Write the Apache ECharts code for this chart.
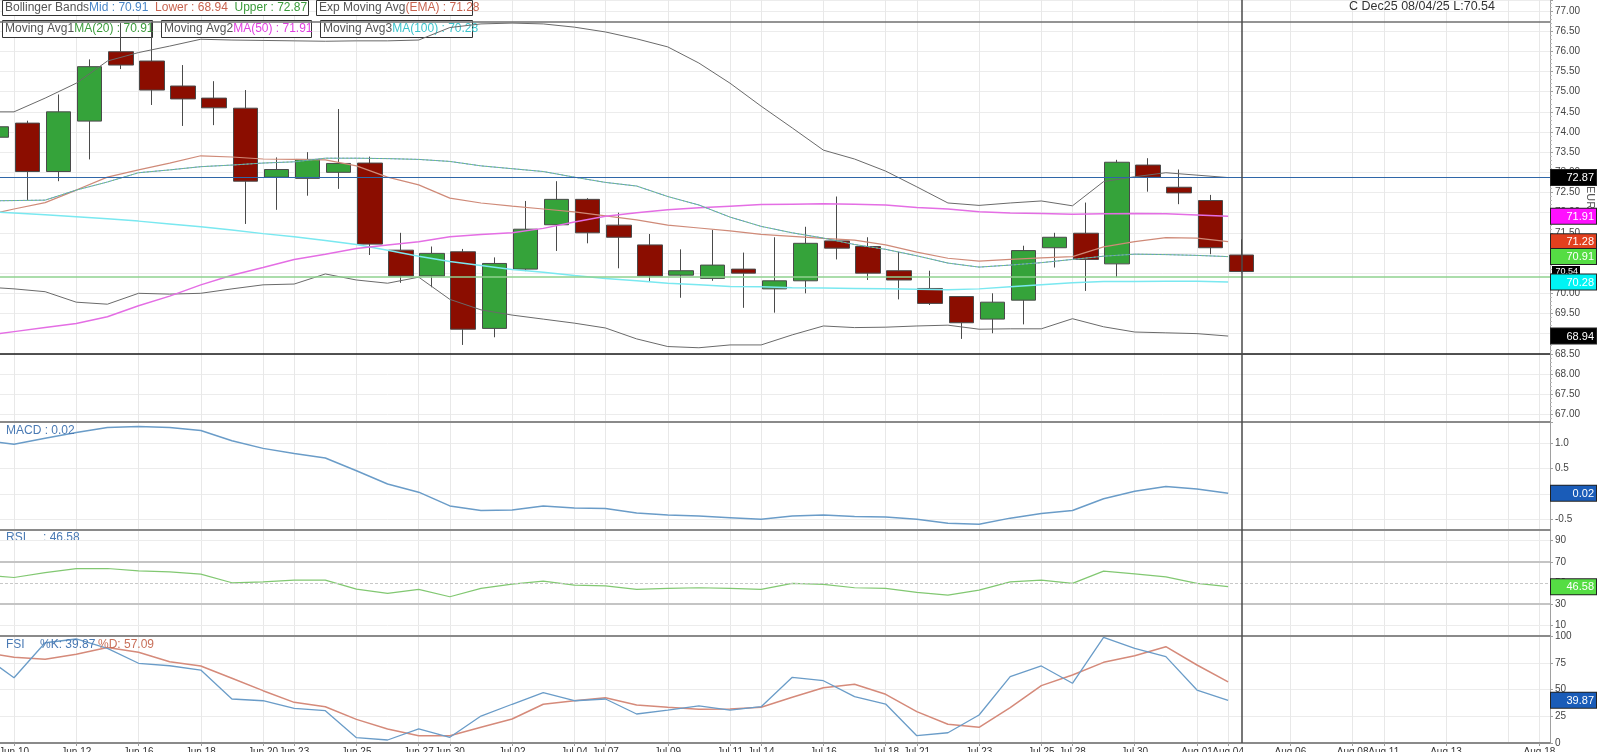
<!DOCTYPE html>
<html><head><meta charset="utf-8">
<script src="https://cdn.jsdelivr.net/npm/echarts@6/dist/echarts.min.js"></script>
<style>html,body{margin:0;padding:0;background:#fff}#c{width:1600px;height:752px}</style>
</head><body><div id="c"></div>
<script>
const F = "'Liberation Sans', Arial, sans-serif";
// weekday categories (index = position)
const dates = ['Jun 09','Jun 10','Jun 11','Jun 12','Jun 13','Jun 16','Jun 17','Jun 18','Jun 19','Jun 20',
 'Jun 23','Jun 24','Jun 25','Jun 26','Jun 27','Jun 30','Jul 01','Jul 02','Jul 03','Jul 04',
 'Jul 07','Jul 08','Jul 09','Jul 10','Jul 11','Jul 14','Jul 15','Jul 16','Jul 17','Jul 18',
 'Jul 21','Jul 22','Jul 23','Jul 24','Jul 25','Jul 28','Jul 29','Jul 30','Jul 31','Aug 01',
 'Aug 04','Aug 05','Aug 06','Aug 07','Aug 08','Aug 11','Aug 12','Aug 13','Aug 14','Aug 15','Aug 18'];
const tickDates = ['Jun 10','Jun 12','Jun 16','Jun 18','Jun 20','Jun 23','Jun 25','Jun 27','Jun 30','Jul 02','Jul 04','Jul 07','Jul 09','Jul 11','Jul 14','Jul 16','Jul 18','Jul 21','Jul 23','Jul 25','Jul 28','Jul 30','Aug 01','Aug 04','Aug 06','Aug 08','Aug 11','Aug 13','Aug 15','Aug 18'];

const open  = [73.87,74.22,73.02,74.27,75.99,75.76,75.14,74.84,74.59,72.88,72.85,73.00,73.23,71.07,70.43,71.03,69.13,70.60,71.70,72.33,71.69,71.20,70.45,70.37,70.60,70.11,70.31,71.30,71.16,70.56,70.12,69.92,69.36,69.83,71.13,71.49,70.73,73.18,72.63,72.30,70.95];
const close = [74.13,73.02,74.50,75.62,75.66,75.04,74.82,74.60,72.78,73.07,73.32,73.22,71.22,70.43,70.99,69.11,70.74,71.59,72.33,71.50,71.39,70.43,70.56,70.70,70.50,70.31,71.24,71.12,70.50,70.33,69.75,69.27,69.78,71.06,71.39,70.84,73.25,72.88,72.49,71.13,70.54];
const low   = [73.75,72.31,72.78,73.32,75.56,74.67,74.15,74.17,71.72,72.07,72.42,72.59,70.95,70.26,70.15,68.72,68.91,70.55,71.05,71.24,70.62,70.29,69.89,70.31,69.64,69.52,70.00,70.84,70.33,69.85,69.71,68.87,69.01,69.23,70.64,70.06,70.40,72.52,72.21,70.97,70.52];
const high  = [74.25,74.28,74.93,75.80,76.70,76.73,75.66,75.26,75.04,73.37,73.50,74.57,73.39,71.50,71.16,71.10,70.89,72.29,72.78,72.36,72.00,71.47,71.09,71.57,71.01,71.39,71.65,72.40,71.39,71.03,70.56,69.93,70.00,71.18,71.50,72.25,73.31,73.35,73.07,72.44,71.34];

const bbUpper = [74.50,74.50,74.84,75.21,75.76,75.97,76.13,76.30,76.28,76.27,76.26,76.25,76.26,76.26,76.28,76.59,76.68,76.70,76.68,76.60,76.48,76.31,76.11,75.71,75.21,74.64,74.10,73.55,73.33,73.03,72.64,72.24,72.18,72.24,72.29,72.17,72.77,72.89,72.99,72.93,72.87];
const bbLower = [70.16,70.11,70.04,69.78,69.73,70.00,69.98,70.00,70.11,70.21,70.23,70.48,70.33,70.25,70.40,69.85,69.59,69.46,69.36,69.26,69.14,68.87,68.68,68.65,68.72,68.72,68.97,69.19,69.15,69.16,69.19,69.21,69.11,69.12,69.12,69.37,69.17,69.04,69.02,69.00,68.94];
const bbMid   = [72.29,72.30,72.31,72.56,72.76,72.99,73.06,73.14,73.18,73.23,73.26,73.35,73.35,73.34,73.32,73.27,73.16,73.09,73.02,72.88,72.75,72.66,72.40,72.19,71.89,71.66,71.50,71.37,71.21,71.09,70.93,70.75,70.65,70.70,70.76,70.84,70.92,70.97,70.96,70.94,70.91];
const ma20 = bbMid.slice();
const ema   = [71.92,72.09,72.25,72.56,72.88,73.06,73.23,73.41,73.38,73.33,73.32,73.31,73.16,72.88,72.69,72.36,72.24,72.16,72.09,72.02,71.92,71.82,71.69,71.62,71.55,71.46,71.41,71.36,71.32,71.20,71.02,70.87,70.80,70.84,70.88,70.91,71.15,71.28,71.38,71.37,71.28];
const ma50  = [68.95,69.05,69.15,69.25,69.42,69.69,69.93,70.21,70.45,70.64,70.84,70.97,71.11,71.20,71.28,71.40,71.46,71.50,71.61,71.77,71.91,72.00,72.07,72.12,72.16,72.20,72.21,72.22,72.21,72.19,72.13,72.09,72.02,71.99,71.98,71.96,71.97,71.98,71.97,71.94,71.91];
const ma100 = [72.03,71.99,71.95,71.90,71.85,71.79,71.72,71.65,71.57,71.48,71.40,71.31,71.21,71.07,70.92,70.79,70.69,70.59,70.52,70.44,70.37,70.31,70.25,70.21,70.17,70.16,70.14,70.13,70.12,70.11,70.10,70.09,70.11,70.16,70.21,70.26,70.29,70.29,70.30,70.30,70.28];

const macd = [1.06,0.98,1.10,1.21,1.31,1.33,1.31,1.25,1.05,0.90,0.80,0.71,0.46,0.20,0.04,-0.23,-0.32,-0.31,-0.23,-0.27,-0.28,-0.37,-0.41,-0.43,-0.46,-0.49,-0.43,-0.41,-0.44,-0.45,-0.49,-0.57,-0.59,-0.47,-0.38,-0.32,-0.09,0.06,0.15,0.10,0.02];
const rsi  = [57.4,55.2,59.8,63.5,63.7,61.5,60.5,58.4,50.2,51.1,52.7,52.7,44.2,40.2,44.0,37.0,44.9,48.9,51.8,48.0,47.3,44.0,44.9,45.5,44.9,44.0,49.6,48.7,45.5,44.9,41.1,38.6,43.3,51.1,52.7,49.6,61.2,58.6,55.8,49.6,46.58];
const fsiK = [82.0,61.0,93.7,97.2,88.5,74.5,72.2,68.2,41.1,39.5,32.4,30.2,5.0,2.8,13.1,5.3,25.2,36.2,47.0,39.5,41.1,27.1,30.8,34.6,30.8,33.9,61.4,58.2,43.3,36.4,6.8,9.6,26.2,62.0,72.0,55.8,98.8,88.5,80.7,49.5,39.87];
const fsiD = [85.0,80.1,78.2,82.9,89.3,84.8,76.0,72.0,60.5,48.9,38.0,33.9,22.1,13.1,6.8,6.8,14.7,22.4,36.2,39.5,42.3,35.5,33.4,31.5,31.8,33.4,42.7,51.7,54.9,45.5,29.3,17.5,14.7,33.0,53.6,63.6,75.4,81.6,90.0,72.9,57.09];

// horizontal reference lines on the price panel
const refTop = 76.73, refUpper = 72.87, refGreen = 70.42, refBottom = 68.50;
const rsiLight = [90, 10], rsiBands = [70, 30], rsiMid = 50;
const rsiTicks = [10, 30, 50, 70, 90];

const last = a => a[a.length - 1];
const f2 = v => v.toFixed(2);
const xMin = 0.55, xMax = 50.34, candleShift = 0.43;
const tickIdx = tickDates.map(d => dates.indexOf(d));
const lineData = arr => arr.map((v, i) => [i, v]);
const candleData = open.map((o, i) => [i + candleShift, o, close[i], low[i], high[i]]);
const crossX = (open.length - 1) + candleShift;

const box = (bg, txt, opt = {}) => ({
  show: true, position: 'end', distance: opt.dist ?? 1,
  formatter: '{a|' + txt + '}',
  backgroundColor: bg, borderColor: opt.border ?? '#222', borderWidth: 1,
  padding: opt.pad ?? [2, 2, 1, 2],
  rich: { a: { width: opt.w ?? 41, align: 'right', fontSize: opt.fs ?? 11, color: opt.color ?? '#fff', fontFamily: F, lineHeight: opt.lh ?? 12 } }
});
const hidden = { width: 0, color: 'transparent' };
const valueBox = (v, bg, opt) => ({ symbol: 'none', silent: true, animation: false,
  data: [{ yAxis: v, lineStyle: hidden, label: box(bg, f2(v), opt) }] });
const cross = { xAxis: crossX, lineStyle: { color: '#4a4a4a', width: 1.5, type: 'solid' }, label: { show: false } };

const borderLine = { show: true, onZero: false, lineStyle: { color: '#8a8a8a', width: 2 } };
function mkX(gi, pos, opts = {}) {
  const labels = !!opts.labels;
  return {
    type: 'value', gridIndex: gi, min: xMin, max: xMax, position: pos,
    axisLine: opts.border ? borderLine : { show: false },
    axisTick: { show: labels, length: 3, customValues: tickIdx, lineStyle: { color: '#9a9a9a' } },
    axisLabel: { show: labels, customValues: tickIdx, formatter: v => dates[Math.round(v)] || '',
      showMinLabel: true, showMaxLabel: true,
      fontSize: 10, color: '#333', margin: 4, fontFamily: F },
    splitLine: { show: opts.split !== false, lineStyle: { color: '#e8e8e8', width: 1 } }
  };
}
const yCommon = {
  type: 'value', position: 'right', scale: true,
  axisLine: { show: true, lineStyle: { color: '#a0a0a0' } },
  axisTick: { show: true, length: 3, lineStyle: { color: '#a0a0a0' } },
  splitLine: { show: true, lineStyle: { color: '#ececec' } }
};
const yLab = (fmt) => ({ showMinLabel: false, showMaxLabel: false, formatter: fmt, fontSize: 10, color: '#444', margin: 5, fontFamily: F });

const mkLine = (data, color, width, xi, yi, extra = {}) => Object.assign({
  type: 'line', xAxisIndex: xi, yAxisIndex: yi, data: lineData(data), showSymbol: false, symbol: 'none',
  silent: true, animation: false, z: 3, lineStyle: { color, width }
}, extra);

const legendBoxes = [
  { x: 2, y: 0, w: 306, h: 15, text: `{g|Bollinger Bands}{b|Mid : ${f2(last(bbMid))}}{r|  Lower : ${f2(last(bbLower))}}{gr|  Upper : ${f2(last(bbUpper))}}` },
  { x: 316, y: 0, w: 156, h: 15, text: `{g|Exp Moving Avg}{r|(EMA) : ${f2(last(ema))}}` },
  { x: 2, y: 20, w: 150, h: 17, text: `{g|Moving Avg1}{gr|MA(20) : ${f2(last(ma20))}}` },
  { x: 161, y: 20, w: 150, h: 17, text: `{g|Moving Avg2}{m|MA(50) : ${f2(last(ma50))}}` },
  { x: 320, y: 20, w: 152, h: 17, text: `{g|Moving Avg3}{c|MA(100) : ${f2(last(ma100))}}` }
];
const rich = { g: { fill: '#555' }, b: { fill: '#4a86c8' }, r: { fill: '#c86450' }, gr: { fill: '#3c9c3c' }, m: { fill: '#e040e0' }, c: { fill: '#3cc4cc' } };
const graphics = [];
legendBoxes.forEach(b => {
  graphics.push({ type: 'rect', z: 1, shape: { x: b.x + 0.5, y: b.y + 0.5, width: b.w, height: b.h }, style: { fill: '#fff', stroke: '#333', lineWidth: 1 } });
  graphics.push({ type: 'text', z: 1, x: b.x + 3, y: b.y + b.h / 2 + 0.5, style: { text: b.text, rich, fontSize: 12, fontFamily: F, verticalAlign: 'middle', fill: '#555' } });
});
const t = (x, y, text, fill, extra = {}) => ({ type: 'text', z: 4, x, y, style: Object.assign({ text, fill, fontSize: 12, fontFamily: F, verticalAlign: 'middle' }, extra) });
graphics.push(t(1495, 7, `C Dec25 08/04/25 L:${f2(last(close))}`, '#333', { align: 'right', fontSize: 12.5 }));
graphics.push(t(6, 431, `MACD : ${f2(last(macd))}`, '#4a7ab4'));
graphics.push(t(6, 538, 'RSI', '#4a7ab4'));
graphics.push(t(43, 538, `: ${f2(last(rsi))}`, '#4a7ab4'));
graphics.push(t(6, 645, 'FSI', '#4a7ab4'));
graphics.push(t(40, 645, `%K: ${f2(last(fsiK))}`, '#4a7ab4'));
graphics.push(t(98, 645, `%D: ${f2(last(fsiD))}`, '#c8705a'));
graphics.push({ type: 'text', z: 0, x: 1590, y: 186, rotation: -Math.PI / 2, style: { text: 'EUR/t', fill: '#555', fontSize: 11, fontFamily: F, verticalAlign: 'middle' } });

const G = { left: 0, right: 50, show: false, outerBoundsMode: 'none', containLabel: false };
const grids = [
  Object.assign({}, G, { top: 0, height: 422 }),
  Object.assign({}, G, { top: 422, height: 108 }),
  Object.assign({}, G, { top: 530, height: 106 }),
  Object.assign({}, G, { top: 636, height: 107 })
];

const option = {
  animation: false, backgroundColor: '#fff', textStyle: { fontFamily: F },
  grid: grids,
  xAxis: [
    mkX(0, 'bottom'),
    mkX(1, 'top', { border: true }),
    mkX(2, 'top', { border: true }),
    mkX(3, 'bottom', { border: true, labels: true }),
    mkX(3, 'top', { border: true, split: false })
  ],
  yAxis: [
    Object.assign({}, yCommon, { gridIndex: 0, min: 66.809, max: 77.273, minInterval: 0.5, maxInterval: 0.5, splitNumber: 20,
      minorTick: { show: true, splitNumber: 5, length: 2, lineStyle: { color: '#bbb' } },
      axisLabel: yLab(v => v.toFixed(2)) }),
    Object.assign({}, yCommon, { gridIndex: 1, min: -0.703, max: 1.418, minInterval: 0.5, maxInterval: 0.5, splitNumber: 4,
      axisLabel: yLab(v => v.toFixed(1)) }),
    Object.assign({}, yCommon, { gridIndex: 2, min: 0, max: 100,
      axisTick: { show: true, length: 3, customValues: rsiTicks, lineStyle: { color: '#a0a0a0' } },
      axisLabel: Object.assign(yLab(v => String(v)), { customValues: rsiTicks, showMinLabel: true, showMaxLabel: true }), splitLine: { show: false } }),
    Object.assign({}, yCommon, { gridIndex: 3, min: 0, max: 100, interval: 25,
      axisLabel: Object.assign(yLab(v => String(v)), { showMinLabel: true, showMaxLabel: true }) })
  ],
  graphic: graphics,
  series: [
    { type: 'candlestick', xAxisIndex: 0, yAxisIndex: 0, data: candleData, encode: { x: 0, y: [1, 2, 3, 4] },
      barWidth: 25, silent: true, z: 2,
      itemStyle: { color: '#35a33a', color0: '#8b0d00', borderColor: '#4a4a4a', borderColor0: '#4a4a4a', borderWidth: 1 },
      markLine: { symbol: 'none', silent: true, animation: false, label: { show: false }, data: [
        { yAxis: refTop, lineStyle: { color: '#707070', width: 1.5, type: 'solid' } },
        { yAxis: refUpper, lineStyle: { color: '#2f66a8', width: 1.2, type: 'solid' } },
        { yAxis: refGreen, lineStyle: { color: '#8fd28f', width: 1.5, type: 'solid' } },
        { yAxis: refBottom, lineStyle: { color: '#1a1a1a', width: 1.5, type: 'solid' } },
        cross,
        { yAxis: last(close), lineStyle: hidden, label: box('#000', f2(last(close)), { w: 24, fs: 9, lh: 9, pad: [0, 1, 0, 1], dist: 3, border: '#000' }) }
      ] } },
    mkLine(bbUpper, '#6a6a6a', 1, 0, 0, { markLine: valueBox(last(bbUpper), '#000') }),
    mkLine(bbLower, '#6a6a6a', 1, 0, 0, { markLine: valueBox(last(bbLower), '#000') }),
    mkLine(ema, '#cf8a78', 1.2, 0, 0, { markLine: valueBox(last(ema), '#e2401e') }),
    mkLine(ma100, '#7ae8f0', 1.5, 0, 0, { markLine: valueBox(last(ma100), '#00f4f4') }),
    mkLine(ma50, '#e46ee4', 1.5, 0, 0, { markLine: valueBox(last(ma50), '#ff10ff') }),
    mkLine(bbMid, '#5f93c8', 1, 0, 0),
    mkLine(ma20, '#79c879', 1, 0, 0, { lineStyle: { color: '#79c879', width: 1, type: [2, 2] }, markLine: valueBox(last(ma20), '#55dd44') }),
    mkLine(macd, '#6a9cc8', 1.5, 1, 1, { markLine: { symbol: 'none', silent: true, animation: false, data: [cross,
      { yAxis: last(macd), lineStyle: hidden, label: box('#1a5cb8', f2(last(macd))) }] } }),
    mkLine(rsi, '#82c872', 1.2, 2, 2, { markLine: { symbol: 'none', silent: true, animation: false, label: { show: false }, data: [
      ...rsiLight.map(v => ({ yAxis: v, lineStyle: { color: '#ececec', width: 1, type: 'solid' } })),
      ...rsiBands.map(v => ({ yAxis: v, lineStyle: { color: '#c4c4c4', width: 2, type: 'solid' } })),
      { yAxis: rsiMid, lineStyle: { color: '#c8c8c8', width: 1, type: [3, 2] } },
      cross,
      { yAxis: last(rsi), lineStyle: hidden, label: box('#55dd44', f2(last(rsi))) }] } }),
    mkLine(fsiD, '#d58a7a', 1.5, 3, 3),
    mkLine(fsiK, '#6a9cc8', 1.3, 3, 3, { markLine: { symbol: 'none', silent: true, animation: false, data: [cross,
      { yAxis: last(fsiK), lineStyle: hidden, label: box('#1a5cb8', f2(last(fsiK))) }] } })
  ]
};
const chart = echarts.init(document.getElementById('c'), null, { renderer: 'canvas' });
chart.setOption(option);
</script></body></html>
